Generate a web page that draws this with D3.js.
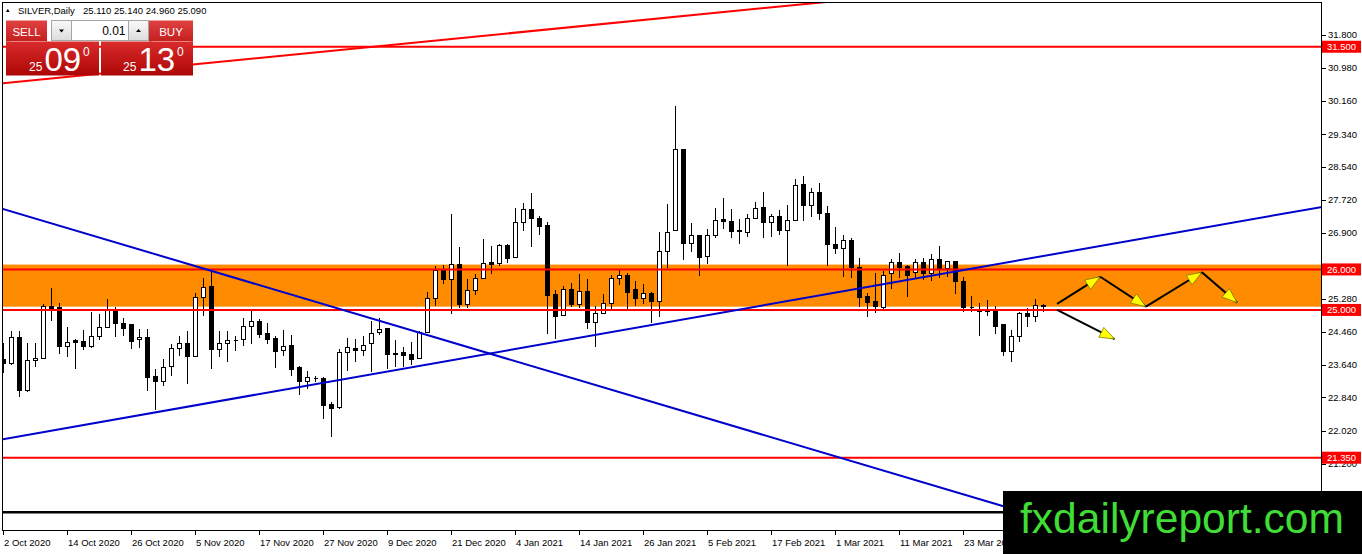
<!DOCTYPE html>
<meta charset="utf-8">
<style>
body { margin: 0; background: #fff; }
svg { display: block; font-family: "Liberation Sans", Arial, sans-serif; }
</style>
<svg width="1362" height="554"></svg>
<script src="https://cdn.jsdelivr.net/npm/d3@7/dist/d3.min.js"></script>
<script>

// SILVER daily bars, 2 Oct 2020 onwards (one entry per trading day)
var opens = [23.77,23.67,24.32,23.01,23.75,23.80,25.08,25.06,24.10,24.24,
  24.23,24.10,24.35,24.57,24.99,24.67,24.65,24.26,24.32,23.36,
  23.22,23.61,24.05,24.18,23.85,25.30,25.59,24.03,24.18,24.24,
  24.26,24.59,24.71,24.43,24.30,23.99,24.13,23.57,23.22,23.31,
  23.30,22.66,22.60,23.95,24.05,24.01,24.16,24.45,24.53,23.93,
  23.95,23.89,23.79,24.45,25.28,25.98,25.74,26.11,25.13,25.47,
  25.77,26.17,26.15,26.59,26.30,27.16,27.48,27.26,27.08,25.39,
  24.86,25.50,25.14,25.45,24.69,24.91,25.16,25.77,25.86,25.50,
  25.28,25.41,25.20,26.44,26.96,28.97,26.63,26.84,26.31,26.85,
  27.23,27.19,26.96,26.92,27.26,27.52,27.17,27.30,26.97,27.22,
  28.09,27.58,27.89,27.37,26.62,26.51,26.72,26.04,25.32,25.21,
  25.06,25.89,26.16,26.08,25.92,26.16,25.89,26.25,26.02,26.20,
  25.70,25.05,25.00,24.96,24.98,24.63,23.98,24.35,24.92,24.83,
  25.11];
var highs = [24.18,24.47,24.47,24.18,24.18,25.14,25.53,25.16,24.59,24.28,
  24.50,24.95,24.89,25.26,25.06,24.81,24.66,24.53,24.53,23.54,
  23.79,24.16,24.36,24.48,25.43,25.80,25.96,24.47,24.47,24.36,
  24.79,25.00,24.77,24.67,24.36,24.50,24.38,23.61,23.49,23.38,
  23.34,22.72,24.03,24.30,24.28,24.36,24.73,24.81,24.53,24.26,
  24.08,24.20,24.49,25.45,26.08,26.11,27.37,26.55,25.76,25.88,
  26.74,26.57,26.63,26.62,27.52,27.64,27.89,27.31,27.17,25.49,
  25.59,25.66,25.88,25.76,25.10,25.39,25.86,25.99,25.92,25.72,
  25.63,25.45,26.93,27.62,30.03,28.97,27.15,26.86,26.99,27.52,
  27.76,27.49,27.25,27.38,27.66,27.90,27.37,27.46,27.58,28.23,
  28.30,28.01,28.13,27.56,27.05,26.86,26.78,26.27,25.43,25.90,
  25.96,26.25,26.41,26.12,26.26,26.27,26.37,26.59,26.22,26.22,
  25.81,25.35,25.16,25.24,25.10,24.66,24.50,24.94,25.04,25.26,
  25.14];
var lows = [23.44,23.65,22.85,22.97,23.60,23.80,24.73,23.90,23.83,23.53,
  24.01,24.06,24.26,24.57,24.32,24.36,24.03,24.06,22.99,22.54,
  23.13,23.36,23.85,23.17,23.85,24.85,23.54,23.83,23.71,23.99,
  24.12,24.16,24.30,24.16,23.57,23.85,23.38,22.89,23.05,23.22,
  22.31,21.86,22.56,23.50,23.71,23.87,23.46,24.39,23.54,23.59,
  23.59,23.63,23.79,24.45,25.10,25.63,24.91,25.04,25.04,25.37,
  25.77,25.88,26.08,26.17,26.28,26.94,26.56,26.85,24.41,24.28,
  24.84,25.06,25.04,24.53,24.08,24.90,25.00,25.61,24.98,25.10,
  25.14,24.68,24.82,26.04,26.96,26.23,26.43,25.84,26.13,26.78,
  27.00,26.78,26.64,26.80,27.26,26.78,26.80,26.84,26.08,27.22,
  27.19,27.30,27.23,26.08,26.37,25.81,25.80,25.06,24.82,24.92,
  24.98,25.51,25.80,25.32,25.80,25.75,25.71,25.80,25.81,25.39,
  24.96,24.94,24.36,24.85,24.40,23.87,23.72,24.20,24.57,24.71,
  24.96];
var closes = [23.67,24.32,23.01,23.76,23.80,25.08,25.03,24.09,24.20,24.20,
  24.10,24.34,24.57,24.99,24.66,24.54,24.22,24.32,23.34,23.22,
  23.58,24.05,24.17,23.85,25.30,25.55,24.03,24.17,24.24,24.24,
  24.59,24.71,24.40,24.28,23.97,24.10,23.54,23.22,23.32,23.31,
  22.64,22.56,23.95,24.06,24.01,24.12,24.42,24.51,23.90,23.90,
  23.87,23.77,24.45,25.28,25.98,25.74,26.11,25.13,25.47,25.77,
  26.15,26.12,26.59,26.27,27.16,27.47,27.25,27.07,25.36,24.84,
  25.50,25.14,25.45,24.69,24.90,25.16,25.77,25.84,25.43,25.28,
  25.41,25.20,26.44,26.90,28.97,26.63,26.84,26.29,26.85,27.22,
  27.19,26.94,26.93,27.26,27.51,27.17,27.31,26.97,27.22,28.07,
  27.58,27.89,27.37,26.62,26.51,26.72,26.04,25.31,25.18,25.09,
  25.86,26.16,26.06,25.86,26.16,25.89,26.25,26.02,26.19,25.69,
  25.06,25.05,24.96,25.00,24.58,23.98,24.35,24.92,24.83,25.12,
  25.09];

// time axis labels, one every 8 bars
var dateLabels = ["2 Oct 2020","14 Oct 2020","26 Oct 2020","5 Nov 2020","17 Nov 2020",
  "27 Nov 2020","9 Dec 2020","21 Dec 2020","4 Jan 2021","14 Jan 2021","26 Jan 2021",
  "5 Feb 2021","17 Feb 2021","1 Mar 2021","11 Mar 2021","23 Mar 2021"];
var labelStep = 8;

var priceTicks = [31.8,30.98,30.16,29.34,28.54,27.72,26.9,26.08,25.28,24.46,23.64,22.84,22.02,21.2];
var redLevels = [31.5, 26.0, 25.0, 21.35];
var zone = [26.12, 25.08];
var blackLevel = 20.0;

// trend lines: [bar, price] anchors
var redTrend = [[0, 30.60], [100, 32.55]];
var blueDown = [[0, 27.49], [125, 20.15]];
var blueUp = [[0, 21.81], [165, 27.55]];

// forecast arrows
var zigzag = [[131.7, 25.15], [137.1, 25.82], [142.8, 25.08], [149.8, 25.93], [154.2, 25.18]];
var dropArrow = [[131.7, 25.0], [138.9, 24.28]];

var svg = d3.select("svg"),
    plot = {left: 3, top: 3, right: 1322, bottom: 531};

var x = d3.scaleLinear().domain([0, 1]).range([3.5, 11.5]);
var y = d3.scaleLinear().domain([19.54, 32.58]).range([plot.bottom, plot.top]);

var defs = svg.append("defs");
defs.append("clipPath").attr("id", "clip")
  .append("rect")
  .attr("x", plot.left).attr("y", plot.top)
  .attr("width", plot.right - plot.left).attr("height", plot.bottom - plot.top);

function grad(id, c0, c1) {
  var g = defs.append("linearGradient").attr("id", id)
    .attr("x1", 0).attr("y1", 0).attr("x2", 0).attr("y2", 1);
  g.append("stop").attr("offset", "0%").attr("stop-color", c0);
  g.append("stop").attr("offset", "100%").attr("stop-color", c1);
}
grad("btnRed", "#e04242", "#c41f1f");
grad("boxRed", "#d92b2b", "#ad0606");
grad("spin", "#fafafa", "#dcdcdc");

var g = svg.append("g").attr("clip-path", "url(#clip)");

// support/resistance zone
g.append("rect")
  .attr("x", plot.left).attr("width", plot.right - plot.left)
  .attr("y", y(zone[0])).attr("height", y(zone[1]) - y(zone[0]))
  .attr("fill", "#ff8c00");

// candles
var bars = d3.range(opens.length);
var candle = g.append("g").attr("shape-rendering", "crispEdges");
candle.selectAll("line.wick").data(bars).enter().append("line")
  .attr("x1", function(i) { return x(i); })
  .attr("x2", function(i) { return x(i); })
  .attr("y1", function(i) { return y(highs[i]); })
  .attr("y2", function(i) { return y(lows[i]); })
  .attr("stroke", "#000");
candle.selectAll("path.body").data(bars).enter().append("path")
  .attr("d", function(i) {
    var x0 = x(i) - 2, x1 = x(i) + 2,
        y0 = y(Math.max(opens[i], closes[i])), y1 = y(Math.min(opens[i], closes[i]));
    return "M" + x0 + "," + y0 + "H" + x1 + "V" + y1 + "H" + x0 + "Z";
  })
  .attr("fill", function(i) { return closes[i] >= opens[i] ? "#fff" : "#000"; })
  .attr("stroke", "#000");

// horizontal levels
g.selectAll("line.level").data(redLevels).enter().append("line")
  .attr("x1", plot.left).attr("x2", plot.right)
  .attr("y1", function(d) { return y(d); })
  .attr("y2", function(d) { return y(d); })
  .attr("stroke", "#ff0000").attr("stroke-width", 2);

g.append("line")
  .attr("x1", plot.left).attr("x2", plot.right)
  .attr("y1", y(blackLevel)).attr("y2", y(blackLevel))
  .attr("stroke", "#000").attr("stroke-width", 2.5);

// trend lines extended across the chart
function trend(pts, color) {
  var slope = (pts[1][1] - pts[0][1]) / (pts[1][0] - pts[0][0]),
      a = -2, b = 170;
  g.append("line")
    .attr("x1", x(a)).attr("y1", y(pts[0][1] + slope * (a - pts[0][0])))
    .attr("x2", x(b)).attr("y2", y(pts[0][1] + slope * (b - pts[0][0])))
    .attr("stroke", color).attr("stroke-width", 2);
}
trend(blueDown, "#0000cd");
trend(blueUp, "#0000cd");
trend(redTrend, "#ff0000");

// arrows
function arrow(p0, p1) {
  var ax = x(p0[0]), ay = y(p0[1]), bx = x(p1[0]), by = y(p1[1]);
  g.append("line").attr("x1", ax).attr("y1", ay).attr("x2", bx).attr("y2", by)
    .attr("stroke", "#000").attr("stroke-width", 2);
  var ang = Math.atan2(by - ay, bx - ax), len = 15, hw = 5.5,
      cx = bx - len * Math.cos(ang), cy = by - len * Math.sin(ang),
      nx = -Math.sin(ang) * hw, ny = Math.cos(ang) * hw;
  g.append("path")
    .attr("d", "M" + bx + "," + by + "L" + (cx + nx) + "," + (cy + ny) + "L" + (cx - nx) + "," + (cy - ny) + "Z")
    .attr("fill", "#ffff00").attr("stroke", "#6b6b00").attr("stroke-width", 0.7);
}
for (var i = 0; i < zigzag.length - 1; i++) arrow(zigzag[i], zigzag[i + 1]);
arrow(dropArrow[0], dropArrow[1]);

// frame
svg.append("rect")
  .attr("x", plot.left - 0.5).attr("y", plot.top - 0.5)
  .attr("width", plot.right - plot.left).attr("height", plot.bottom - plot.top)
  .attr("fill", "none").attr("stroke", "#000").attr("shape-rendering", "crispEdges");

// price axis
var yAxis = svg.append("g").attr("font-size", 9.5);
yAxis.selectAll("line").data(priceTicks).enter().append("line")
  .attr("x1", plot.right).attr("x2", plot.right + 4)
  .attr("y1", function(d) { return Math.round(y(d)) + 0.5; })
  .attr("y2", function(d) { return Math.round(y(d)) + 0.5; })
  .attr("stroke", "#000");
yAxis.selectAll("text").data(priceTicks).enter().append("text")
  .attr("x", plot.right + 6).attr("y", function(d) { return y(d); })
  .attr("dy", "0.36em").attr("fill", "#000")
  .text(function(d) { return d3.format(".3f")(d); });

var badge = svg.append("g").attr("font-size", 9.5);
badge.selectAll("rect").data(redLevels).enter().append("rect")
  .attr("x", plot.right).attr("width", 39)
  .attr("y", function(d) { return y(d) - 6; }).attr("height", 12)
  .attr("fill", "#ff0000");
badge.selectAll("text").data(redLevels).enter().append("text")
  .attr("x", plot.right + 5).attr("y", function(d) { return y(d); })
  .attr("dy", "0.36em").attr("fill", "#fff")
  .text(function(d) { return d3.format(".3f")(d); });

// time axis
var tickBars = dateLabels.map(function(d, i) { return i * labelStep; });
var xAxis = svg.append("g").attr("font-size", 9.5);
xAxis.selectAll("line").data(tickBars).enter().append("line")
  .attr("x1", function(d) { return Math.floor(x(d)) + 0.5; })
  .attr("x2", function(d) { return Math.floor(x(d)) + 0.5; })
  .attr("y1", plot.bottom).attr("y2", plot.bottom + 4)
  .attr("stroke", "#000");
xAxis.selectAll("text").data(tickBars).enter().append("text")
  .attr("x", function(d) { return x(d) + 0.5; })
  .attr("y", plot.bottom + 15)
  .attr("fill", "#000")
  .text(function(d, i) { return dateLabels[i]; });

// header
svg.append("path").attr("d", "M6,12L7.8,8.8L9.6,12Z").attr("fill", "#000");
svg.append("text").attr("x", 18).attr("y", 13.5).attr("font-size", 9.5).text("SILVER,Daily");
svg.append("text").attr("x", 83).attr("y", 13.5).attr("font-size", 9.5)
  .text([closes[closes.length - 1] + 0.02, highs[highs.length - 1], lows[lows.length - 1], closes[closes.length - 1]]
    .map(function(v) { return d3.format(".3f")(v); }).join(" "));

// one-click trading panel
var panel = svg.append("g");
panel.append("rect").attr("x", 6).attr("y", 20.5).attr("width", 41).attr("height", 21).attr("fill", "url(#btnRed)");
panel.append("rect").attr("x", 149).attr("y", 20.5).attr("width", 44).attr("height", 21).attr("fill", "url(#btnRed)");
panel.append("text").attr("x", 26.5).attr("y", 35.5).attr("text-anchor", "middle")
  .attr("font-size", 11.5).attr("fill", "#fff").text("SELL");
panel.append("text").attr("x", 171).attr("y", 35.5).attr("text-anchor", "middle")
  .attr("font-size", 11.5).attr("fill", "#fff").text("BUY");
panel.append("rect").attr("x", 51.5).attr("y", 20.5).attr("width", 20).attr("height", 20)
  .attr("fill", "url(#spin)").attr("stroke", "#a6a6a6");
panel.append("rect").attr("x", 71.5).attr("y", 20.5).attr("width", 57).attr("height", 20)
  .attr("fill", "#fff").attr("stroke", "#a6a6a6");
panel.append("rect").attr("x", 128.5).attr("y", 20.5).attr("width", 20).attr("height", 20)
  .attr("fill", "url(#spin)").attr("stroke", "#a6a6a6");
panel.append("path").attr("d", "M59,29.5L64,29.5L61.5,32.5Z").attr("fill", "#000");
panel.append("path").attr("d", "M136,32L141,32L138.5,29Z").attr("fill", "#000");
panel.append("text").attr("x", 125.5).attr("y", 35).attr("text-anchor", "end")
  .attr("font-size", 12).attr("fill", "#000").text("0.01");

panel.append("rect").attr("x", 6).attr("y", 41.5).attr("width", 93).attr("height", 34).attr("fill", "url(#boxRed)");
panel.append("rect").attr("x", 101).attr("y", 41.5).attr("width", 92).attr("height", 34).attr("fill", "url(#boxRed)");
panel.append("line").attr("x1", 10).attr("x2", 46).attr("y1", 41.5).attr("y2", 41.5)
  .attr("stroke", "#f08a8a").attr("stroke-width", 0.8);
panel.append("line").attr("x1", 152).attr("x2", 190).attr("y1", 41.5).attr("y2", 41.5)
  .attr("stroke", "#f08a8a").attr("stroke-width", 0.8);

function quote(x0, big, small, pip) {
  panel.append("text").attr("x", x0).attr("y", 71).attr("font-size", 12).attr("fill", "#fff").text(small);
  panel.append("text").attr("x", x0 + 15.5).attr("y", 71).attr("font-size", 33).attr("fill", "#fff").text(big);
  panel.append("text").attr("x", x0 + 54).attr("y", 56).attr("font-size", 12).attr("fill", "#fff").text(pip);
}
quote(29, "09", "25", "0");
quote(123, "13", "25", "0");

// watermark
svg.append("rect").attr("x", 1003).attr("y", 491).attr("width", 359).attr("height", 63).attr("fill", "#000");
svg.append("text").attr("x", 1020).attr("y", 533)
  .attr("font-size", 43).attr("fill", "#3fdd36")
  .attr("textLength", 324).attr("lengthAdjust", "spacingAndGlyphs")
  .text("fxdailyreport.com");

</script>
